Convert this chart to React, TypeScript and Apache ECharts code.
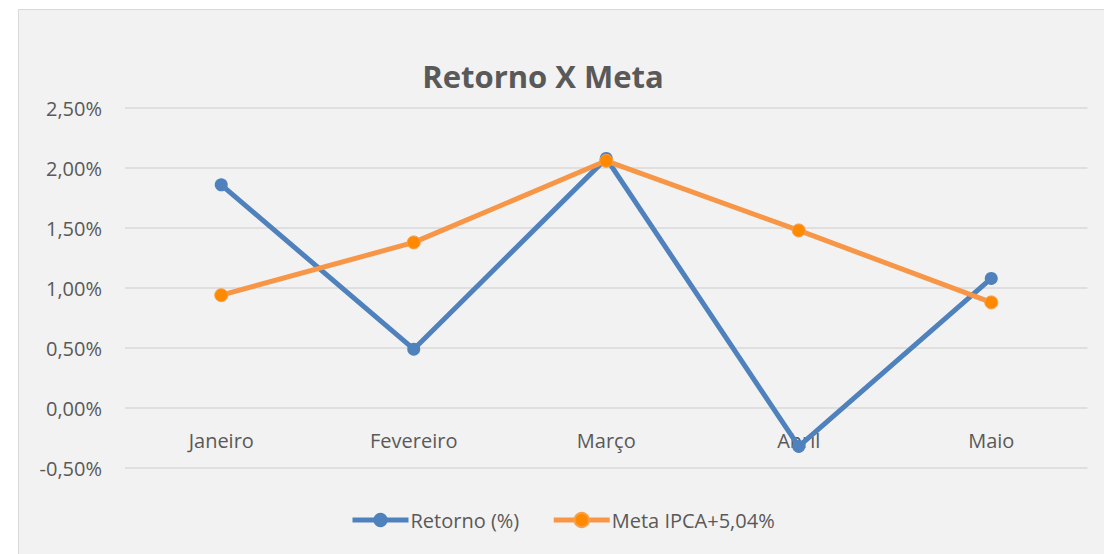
import React, { useEffect, useRef } from "react";
import * as echarts from "echarts";

const categories = ["Janeiro", "Fevereiro", "Março", "Abril", "Maio"];
const retorno = [1.86, 0.49, 2.08, -0.32, 1.08];
const meta = [0.94, 1.38, 2.06, 1.48, 0.88];
const seriesNames = ["Retorno (%)", "Meta IPCA+5,04%"];
const titleText = "Retorno X Meta";

const FONT = "Open Sans";
const TEXT = "#595959";

export default function App() {
  const ref = useRef<HTMLDivElement>(null);
  useEffect(() => {
    document.body.style.margin = "0";
    const chart = echarts.init(ref.current!, undefined, { renderer: "svg" });
    chart.setOption({
      animation: false,
      backgroundColor: "#ffffff",
      graphic: [
        {
          type: "rect",
          z: -10,
          silent: true,
          shape: { x: 18.5, y: 9.5, width: 1100, height: 560 },
          style: { fill: "#f2f2f2", stroke: "#d9d9d9", lineWidth: 1 },
        },
      ],
      title: {
        text: titleText,
        left: 538,
        top: 55,
        textAlign: "center",
        textStyle: { fontFamily: FONT, fontSize: 31, fontWeight: "bold", color: TEXT },
      },
      legend: {
        top: 510,
        left: 350,
        padding: 0,
        itemWidth: 56,
        itemHeight: 18,
        itemGap: 32,
        lineStyle: { width: 5 },
        textStyle: { fontFamily: FONT, fontSize: 20, color: TEXT, padding: [0, 0, 0, -3] },
        data: seriesNames,
      },
      grid: { left: 125, right: 16.5, top: 108, bottom: 86 },
      xAxis: {
        type: "category",
        data: categories,
        boundaryGap: true,
        offset: -60,
        axisLine: { show: false, onZero: false },
        axisTick: { show: false },
        axisLabel: { fontFamily: FONT, fontSize: 20, color: TEXT, margin: 22 },
      },
      yAxis: {
        type: "value",
        min: -0.5,
        max: 2.5,
        interval: 0.5,
        axisLine: { show: false },
        axisTick: { show: false },
        splitLine: { lineStyle: { color: "#d9d9d9", width: 1.5 } },
        axisLabel: {
          fontFamily: FONT,
          fontSize: 20,
          color: TEXT,
          margin: 23,
          formatter: (v: number) => v.toFixed(2).replace(".", ",") + "%",
        },
      },
      series: [
        {
          name: seriesNames[0],
          type: "line",
          data: retorno,
          symbol: "circle",
          symbolSize: 13,
          lineStyle: { color: "#4f81bd", width: 5 },
          itemStyle: { color: "#4f81bd" },
        },
        {
          name: seriesNames[1],
          type: "line",
          data: meta,
          symbol: "circle",
          symbolSize: 13,
          lineStyle: { color: "#f79646", width: 5 },
          itemStyle: { color: "#ff8a00", borderColor: "#f9a050", borderWidth: 1 },
        },
      ],
    });
    return () => chart.dispose();
  }, []);
  return <div ref={ref} style={{ width: 1104, height: 554 }} />;
}
